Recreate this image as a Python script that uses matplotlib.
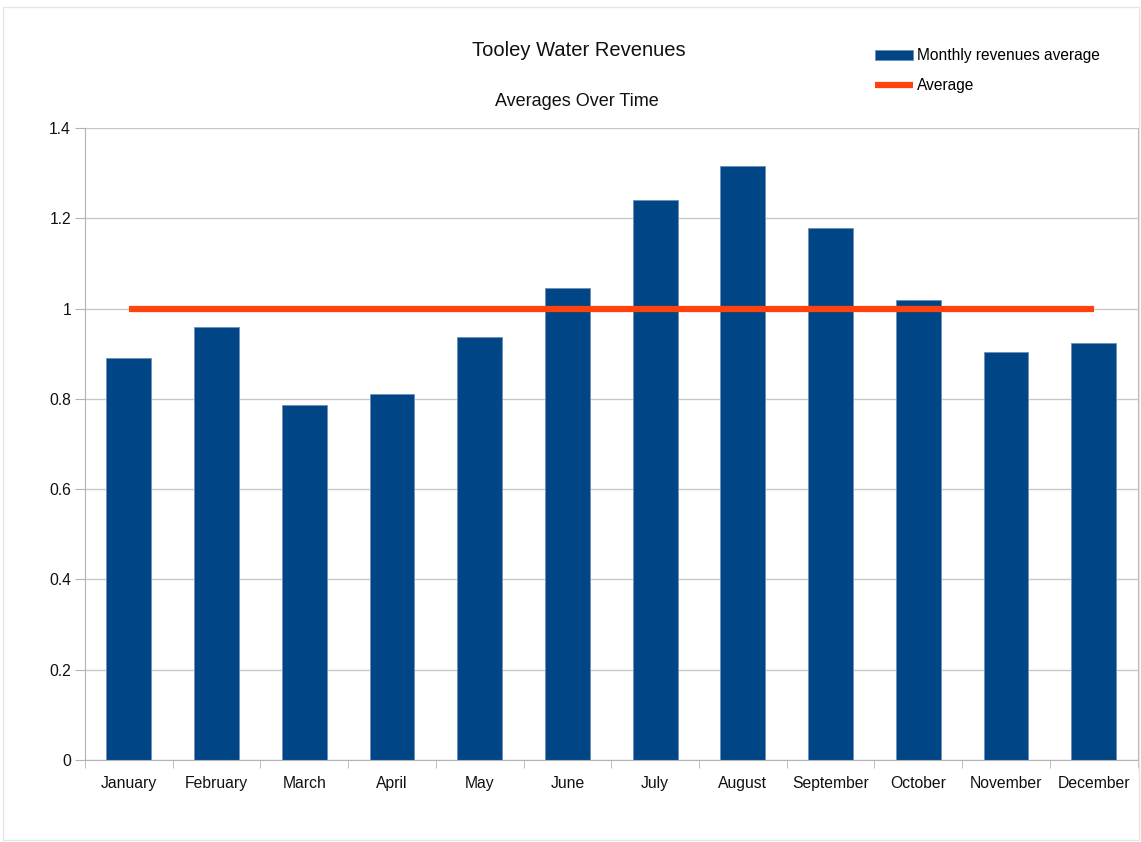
import matplotlib
matplotlib.use("Agg")
import matplotlib.pyplot as plt
from matplotlib.patches import Rectangle
import numpy as np

plt.rcParams['font.family'] = ['Liberation Sans', 'DejaVu Sans']

months = ['January', 'February', 'March', 'April', 'May', 'June', 'July',
          'August', 'September', 'October', 'November', 'December']
monthly_avg = [0.891, 0.959, 0.786, 0.811, 0.937, 1.046, 1.241,
               1.316, 1.179, 1.019, 0.904, 0.924]
overall_avg = [1.0] * 12
yticks = [0, 0.2, 0.4, 0.6, 0.8, 1, 1.2, 1.4]
ytick_labels = ['0', '0.2', '0.4', '0.6', '0.8', '1', '1.2', '1.4']

fig = plt.figure(figsize=(11.41, 8.42), dpi=100)
# light frame around the whole chart
fig.patches.append(Rectangle((0.003, 0.002), 0.995, 0.99, transform=fig.transFigure,
                             fill=False, edgecolor='#e6e6e6', lw=1))
ax = fig.add_axes([0.0745, 0.0974, 0.9225, 0.7506])

x = np.arange(len(months))
bars = ax.bar(x, monthly_avg, width=0.51, color='#004586', edgecolor='#6f8fb8',
              linewidth=0.6, zorder=2, label='Monthly revenues average')
line, = ax.plot(x, overall_avg, color='#ff420e', lw=4.5, zorder=3,
                solid_capstyle='butt', label='Average')

ax.set_xlim(-0.5, 11.5)
ax.set_ylim(0, 1.4)
ax.set_yticks(yticks)
ax.set_yticklabels(ytick_labels)
ax.set_xticks(x)
ax.set_xticklabels(months)
ax.set_xticks(np.arange(-0.5, 12, 1), minor=True)
ax.tick_params(axis='x', which='major', length=0, pad=11.5, labelsize=11.3, labelcolor='#111111')
ax.tick_params(axis='x', which='minor', length=6, color='#b3b3b3', direction='out')
ax.tick_params(axis='y', length=7, color='#b3b3b3', labelsize=11.3, labelcolor='#111111', pad=3)

ax.yaxis.grid(True, color='#c8c8c8', lw=1, zorder=0)
ax.set_axisbelow(True)
for s in ['left', 'bottom', 'right']:
    ax.spines[s].set_color('#b3b3b3')
ax.spines['top'].set_visible(False)

fig.text(0.507, 0.94, 'Tooley Water Revenues', ha='center', va='center', fontsize=14.5, color='#111111')
fig.text(0.506, 0.88, 'Averages Over Time', ha='center', va='center', fontsize=13, color='#111111')

fig.legend(handles=[bars, line], loc='upper left', bbox_to_anchor=(0.7575, 0.9555),
           frameon=False, fontsize=11.2, handlelength=2.45, handleheight=0.55,
           labelspacing=0.95, handletextpad=0.25, borderpad=0.2)

fig.savefig('out.png', dpi=100)
